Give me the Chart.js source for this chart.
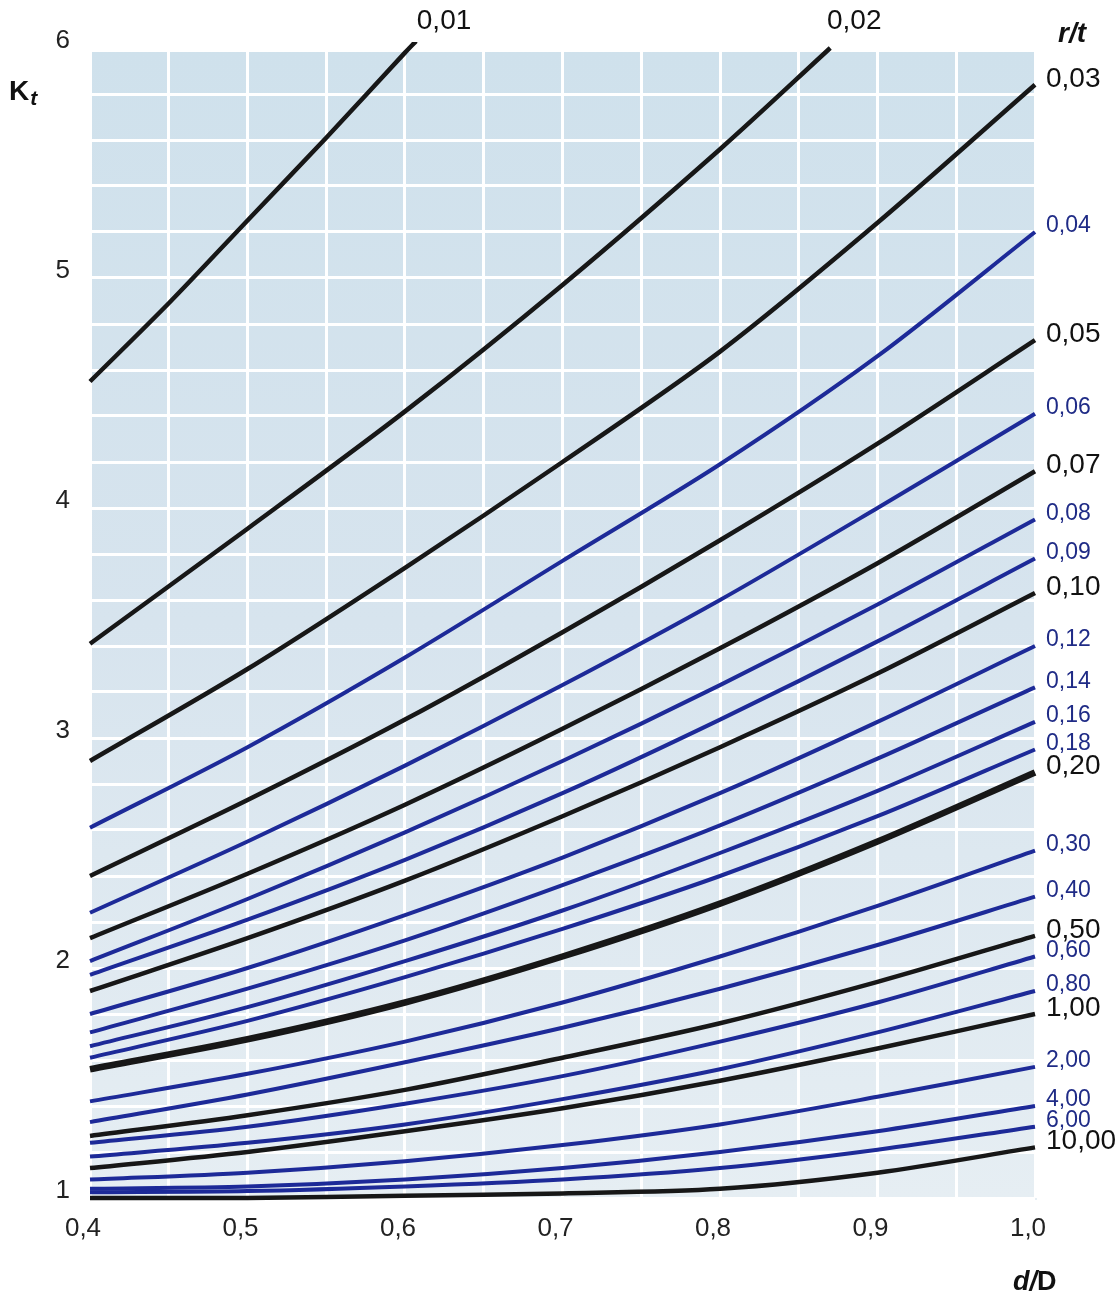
<!DOCTYPE html>
<html>
<head>
<meta charset="utf-8">
<script src="https://cdn.jsdelivr.net/npm/chart.js@4.4.1/dist/chart.umd.min.js"></script>
<style>
  html, body { margin: 0; padding: 0; background: #fff; }
  #wrap { width: 1120px; height: 1297px; }
</style>
</head>
<body>
<div id="wrap"><canvas id="kt" width="1120" height="1297"></canvas></div>
<script>
// d/D stations the curves were read at
const dD = [0.4, 0.5, 0.6, 0.7, 0.8, 0.9, 1.0];
const dD001 = [0.4, 0.45, 0.5, 0.55, 0.6, 0.607];
const dD002 = [0.4, 0.5, 0.6, 0.7, 0.8, 0.87];

// Kt values per r/t curve
const kt001 = [4.55, 4.89, 5.25, 5.61, 5.98, 6.03];
const kt002 = [3.41, 3.91, 4.42, 4.97, 5.56, 6.00];
const kt003 = [2.90, 3.30, 3.74, 4.20, 4.68, 5.24, 5.84];
const kt004 = [2.61, 2.96, 3.35, 3.77, 4.19, 4.66, 5.20];
const kt005 = [2.40, 2.73, 3.08, 3.46, 3.86, 4.28, 4.73];
const kt006 = [2.24, 2.55, 2.88, 3.23, 3.60, 4.00, 4.41];
const kt007 = [2.13, 2.41, 2.71, 3.04, 3.39, 3.76, 4.16];
const kt008 = [2.03, 2.30, 2.59, 2.90, 3.23, 3.58, 3.95];
const kt009 = [1.97, 2.21, 2.47, 2.76, 3.08, 3.42, 3.78];
const kt010 = [1.90, 2.13, 2.38, 2.66, 2.96, 3.28, 3.63];
const kt012 = [1.80, 2.00, 2.23, 2.48, 2.76, 3.07, 3.40];
const kt014 = [1.72, 1.91, 2.12, 2.36, 2.62, 2.91, 3.22];
const kt016 = [1.66, 1.83, 2.03, 2.25, 2.50, 2.77, 3.07];
const kt018 = [1.61, 1.77, 1.96, 2.17, 2.40, 2.66, 2.95];
const kt020 = [1.56, 1.69, 1.85, 2.05, 2.28, 2.55, 2.85];
const kt030 = [1.42, 1.54, 1.68, 1.85, 2.05, 2.27, 2.51];
const kt040 = [1.33, 1.45, 1.59, 1.74, 1.91, 2.10, 2.31];
const kt050 = [1.27, 1.36, 1.47, 1.61, 1.76, 1.94, 2.14];
const kt060 = [1.24, 1.31, 1.41, 1.53, 1.68, 1.85, 2.05];
const kt080 = [1.18, 1.24, 1.32, 1.43, 1.56, 1.72, 1.90];
const kt100 = [1.13, 1.20, 1.29, 1.39, 1.51, 1.65, 1.80];
const kt200 = [1.08, 1.11, 1.16, 1.23, 1.32, 1.44, 1.57];
const kt400 = [1.04, 1.05, 1.08, 1.13, 1.20, 1.29, 1.40];
const kt600 = [1.025, 1.03, 1.05, 1.08, 1.13, 1.21, 1.31];
const kt1000 = [1.00, 1.00, 1.01, 1.02, 1.04, 1.11, 1.22];

// curve label, x stations, values, printed black (else blue)
const curves = [
  ['0,01', dD001, kt001, true],
  ['0,02', dD002, kt002, true],
  ['0,03', dD, kt003, true],
  ['0,04', dD, kt004, false],
  ['0,05', dD, kt005, true],
  ['0,06', dD, kt006, false],
  ['0,07', dD, kt007, true],
  ['0,08', dD, kt008, false],
  ['0,09', dD, kt009, false],
  ['0,10', dD, kt010, true],
  ['0,12', dD, kt012, false],
  ['0,14', dD, kt014, false],
  ['0,16', dD, kt016, false],
  ['0,18', dD, kt018, false],
  ['0,20', dD, kt020, true],
  ['0,30', dD, kt030, false],
  ['0,40', dD, kt040, false],
  ['0,50', dD, kt050, true],
  ['0,60', dD, kt060, false],
  ['0,80', dD, kt080, false],
  ['1,00', dD, kt100, true],
  ['2,00', dD, kt200, false],
  ['4,00', dD, kt400, false],
  ['6,00', dD, kt600, false],
  ['10,00', dD, kt1000, true]
];

const INK = '#171717';
const BLUE = '#1d2a98';
const BLUE_TEXT = '#1f2b86';
const FONT = '"Liberation Sans", Arial, sans-serif';

const datasets = curves.map(([label, xs, ys, black]) => ({
  label: label,
  data: xs.map((x, i) => ({ x: x, y: ys[i] })),
  borderColor: black ? INK : BLUE,
  borderWidth: label === '0,20' ? 6.5 : (black ? 4.5 : 4),
  pointRadius: 0,
  fill: false,
  clip: 6,
  tension: 0.3,
  black: black
}));

// paper background behind the white grid
const paperPlugin = {
  id: 'paper',
  beforeDraw(chart) {
    const { ctx, chartArea: a } = chart;
    const g = ctx.createLinearGradient(0, a.top, 0, a.bottom);
    g.addColorStop(0, '#cfe1ec');
    g.addColorStop(0.5, '#d7e4ee');
    g.addColorStop(1, '#e6eef3');
    ctx.save();
    ctx.fillStyle = g;
    ctx.fillRect(a.left + 2, a.top + 4, a.right - a.left, a.bottom - a.top - 2);
    ctx.restore();
  }
};

// r/t labels at curve ends + axis titles
const labelPlugin = {
  id: 'curveLabels',
  afterDatasetsDraw(chart) {
    const ctx = chart.ctx;
    ctx.save();
    ctx.textBaseline = 'middle';
    chart.data.datasets.forEach((ds, i) => {
      const pts = chart.getDatasetMeta(i).data;
      const last = pts[pts.length - 1];
      ctx.fillStyle = ds.black ? '#111' : BLUE_TEXT;
      ctx.font = (ds.black ? '28px ' : '23px ') + FONT;
      if (ds.label === '0,01' || ds.label === '0,02') {
        ctx.textAlign = 'center';
        ctx.fillText(ds.label, last.x + (ds.label === '0,01' ? 28 : 24), 21);
      } else {
        ctx.textAlign = 'left';
        ctx.fillText(ds.label, 1046, last.y - 6);
      }
    });

    ctx.fillStyle = '#111';
    ctx.textBaseline = 'alphabetic';
    ctx.textAlign = 'left';
    ctx.font = 'bold 28px ' + FONT;
    ctx.fillText('K', 9, 100);
    const kw = ctx.measureText('K').width;
    ctx.font = 'bold italic 21px ' + FONT;
    ctx.fillText('t', 9 + kw + 1, 105);

    ctx.font = 'bold italic 28px ' + FONT;
    ctx.textAlign = 'center';
    ctx.fillText('r/t', 1072, 42);

    ctx.textAlign = 'left';
    ctx.font = 'bold italic 27px ' + FONT;
    const dw = ctx.measureText('d/').width;
    ctx.fillText('d/', 1013, 1290);
    ctx.font = 'bold 27px ' + FONT;
    ctx.fillText('D', 1013 + dw, 1290);
    ctx.restore();
  }
};

new Chart(document.getElementById('kt'), {
  type: 'line',
  data: { datasets: datasets },
  options: {
    responsive: false,
    animation: false,
    devicePixelRatio: 1,
    layout: { padding: { top: 48, right: 85, left: 0, bottom: 0 } },
    plugins: { legend: { display: false }, tooltip: { enabled: false } },
    scales: {
      x: {
        type: 'linear',
        min: 0.4,
        max: 1.0,
        afterFit: s => { s.height = 99; },
        border: { display: false },
        grid: { color: '#ffffff', lineWidth: 3, drawTicks: false },
        ticks: {
          stepSize: 0.05,
          autoSkip: false,
          maxRotation: 0,
          padding: 15,
          labelOffset: -7,
          color: '#222',
          font: { family: FONT, size: 26 },
          callback: v => (Math.round(v * 100) % 10 === 0) ? v.toFixed(1).replace('.', ',') : ''
        }
      },
      y: {
        min: 1,
        max: 6,
        afterFit: s => { s.width = 90; },
        border: { display: false },
        grid: { color: '#ffffff', lineWidth: 3, drawTicks: false },
        ticks: {
          stepSize: 0.2,
          autoSkip: false,
          padding: 20,
          labelOffset: -7,
          color: '#222',
          font: { family: FONT, size: 26 },
          callback: v => Math.abs(v - Math.round(v)) < 1e-6 ? String(Math.round(v)) : ''
        }
      }
    }
  },
  plugins: [paperPlugin, labelPlugin]
});
</script>
</body>
</html>
